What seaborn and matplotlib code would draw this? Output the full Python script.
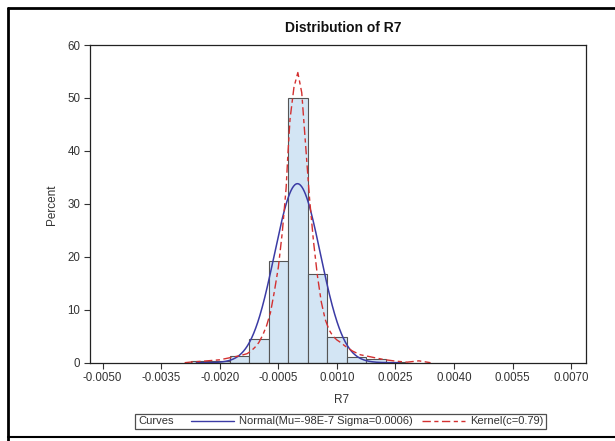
import numpy as np
import pandas as pd
import matplotlib
matplotlib.use("Agg")
import matplotlib.pyplot as plt
import seaborn as sns
from matplotlib.lines import Line2D
from matplotlib.offsetbox import HPacker

# ---------------- data ----------------
bin_centers = [-0.0025, -0.0020, -0.0015, -0.0010, -0.0005, 0.0, 0.0005, 0.0010, 0.0015, 0.0020, 0.0025]
bin_percent = [0.25, 0.4, 1.3, 4.4, 19.2, 50.0, 16.7, 4.9, 1.1, 0.7, 0.2]
bin_width = 0.0005

normal_mu = -98e-7
normal_sigma = 0.00059

kernel_x = [-0.0029, -0.0027, -0.0024, -0.0020, -0.0017, -0.0015, -0.0013, -0.0012, -0.0011,
            -0.0010, -0.0009, -0.0008, -0.0007, -0.0006, -0.0005, -0.0004, -0.0003, -0.00025,
            -0.0002, -0.0001, 0.0, 0.0001, 0.0002, 0.0003, 0.0004, 0.0005, 0.0006, 0.0007,
            0.0008, 0.0009, 0.0010, 0.0011, 0.0012, 0.0014, 0.0016, 0.0018, 0.0020, 0.0022,
            0.0025, 0.0028, 0.0031, 0.0034]
kernel_pct = [0.0, 0.15, 0.3, 0.55, 1.0, 1.3, 1.7, 2.2, 2.9,
              3.8, 5.2, 7.0, 9.5, 13.5, 18.0, 24.5, 33.0, 40.0,
              46.0, 52.0, 54.8, 51.0, 41.0, 31.0, 23.0, 16.5, 11.5, 8.2,
              6.2, 5.0, 4.3, 3.8, 3.2, 2.2, 1.5, 1.2, 0.9, 0.6,
              0.3, 0.1, 0.35, 0.0]

x_ticks = [-0.0050, -0.0035, -0.0020, -0.0005, 0.0010, 0.0025, 0.0040, 0.0055, 0.0070]
y_ticks = [0, 10, 20, 30, 40, 50, 60]

title = "Distribution of R7"
x_label = "R7"
y_label = "Percent"
legend_title = "Curves"
normal_label = "Normal(Mu=-98E-7 Sigma=0.0006)"
kernel_label = "Kernel(c=0.79)"

# ---------------- style ----------------
sns.set_theme(style="white")
plt.rcParams["font.family"] = ["Liberation Sans", "DejaVu Sans"]

W, H = 615, 441
fig = plt.figure(figsize=(W / 100, H / 100), dpi=100)
fig.patch.set_facecolor("white")
ax = fig.add_axes([90 / W, 1 - 362.7 / H, 496 / W, 317.7 / H])

bars_df = pd.DataFrame({"x": bin_centers, "pct": bin_percent})
lo = min(bin_centers) - bin_width / 2
hi = max(bin_centers) + bin_width / 2
sns.histplot(data=bars_df, x="x", weights="pct", binwidth=bin_width, binrange=(lo, hi),
             stat="count", color="#D3E5F4", edgecolor="#555555", linewidth=0.8,
             alpha=1.0, ax=ax)

# normal curve (fitted)
xg = np.linspace(-0.0026, 0.0026, 500)
norm_pct = 100 * bin_width * np.exp(-0.5 * ((xg - normal_mu) / normal_sigma) ** 2) / (normal_sigma * np.sqrt(2 * np.pi))
sns.lineplot(x=xg, y=norm_pct, color="#3B3BA5", linewidth=1.1, ax=ax)

# kernel curve
kern_df = pd.DataFrame({"x": kernel_x, "pct": kernel_pct})
sns.lineplot(data=kern_df, x="x", y="pct", color="#D33030", linewidth=1.0, ax=ax)
ax.lines[-1].set_dashes((6, 2.5, 3, 2.5))

ax.set_xlim(-0.005325, 0.007383)
ax.set_ylim(0, 60)
ax.set_xticks(x_ticks)
ax.set_xticklabels([f"{v:.4f}" for v in x_ticks])
ax.set_yticks(y_ticks)
ax.tick_params(axis="both", direction="out", length=4, width=0.8, color="#333333",
               labelsize=8.3, labelcolor="#333333", pad=3, bottom=True, left=True)
for s in ax.spines.values():
    s.set_color("#222222")
    s.set_linewidth(0.9)
ax.set_xlabel("")
ax.set_ylabel("")
ax.grid(False)

fig.text(343 / W, 1 - 28 / H, title, ha="center", va="center", fontsize=10,
         fontweight="bold", color="#111111")
fig.text(342 / W, 1 - 400 / H, x_label, ha="center", va="center", fontsize=8.5, color="#333333")
fig.text(52 / W, 1 - 205 / H, y_label, ha="center", va="center", rotation=90,
         fontsize=8.5, color="#333333")

# legend
fs = 8
h_norm = Line2D([], [], color="#3B3BA5", linewidth=1.0)
h_kern = Line2D([], [], color="#D33030", linewidth=1.0, dashes=(6, 2.5, 3, 2.5))
leg = fig.legend(handles=[h_norm, h_kern], labels=[normal_label, kernel_label],
                 ncol=2, title=legend_title, loc="center", bbox_to_anchor=(340.5 / W, 1 - 421.5 / H),
                 fontsize=fs, title_fontsize=fs, frameon=True, fancybox=False,
                 edgecolor="#222222", handlelength=3.8, handletextpad=0.45,
                 columnspacing=0.9, borderpad=0.25, borderaxespad=0)
leg.get_frame().set_linewidth(0.9)
for t in leg.get_texts():
    t.set_color("#333333")
leg.get_title().set_color("#333333")
newbox = HPacker(pad=leg.borderpad * fs, sep=13, align="center",
                 children=[leg._legend_title_box, leg._legend_handle_box])
newbox.set_figure(fig)
newbox.axes = leg.axes
newbox.set_offset(leg._findoffset)
leg._legend_box = newbox

# outer frame lines
fig.add_artist(Line2D([8 / W, 8 / W], [0, 1 - 8 / H], transform=fig.transFigure, color="black", linewidth=2))
fig.add_artist(Line2D([8 / W, 1], [1 - 8 / H, 1 - 8 / H], transform=fig.transFigure, color="black", linewidth=2))
fig.add_artist(Line2D([8 / W, 1], [1 - 437 / H, 1 - 437 / H], transform=fig.transFigure, color="black", linewidth=1.5))

fig.savefig("out.png", dpi=100, facecolor="white")
